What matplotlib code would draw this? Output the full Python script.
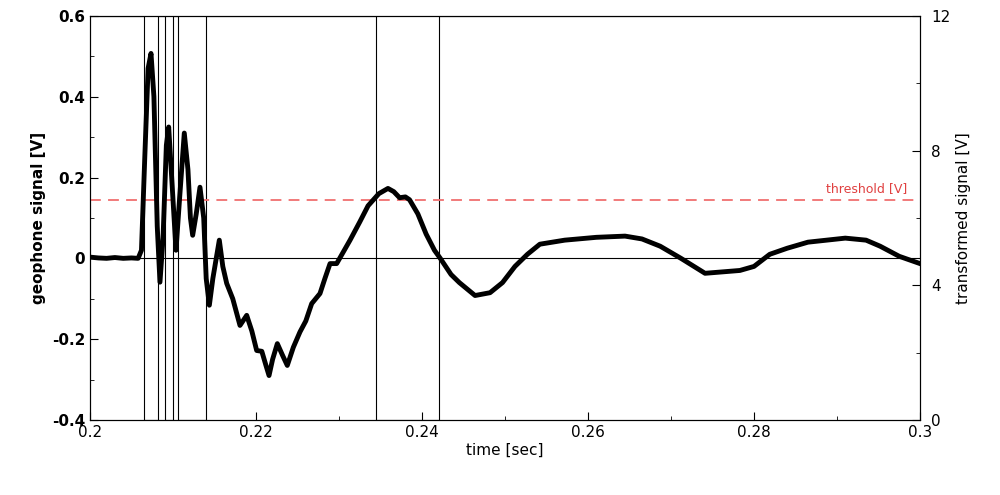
import numpy as np
import matplotlib
matplotlib.use("Agg")
import matplotlib.pyplot as plt
from matplotlib.ticker import MultipleLocator

# geophone signal [V] vs time [sec]
sig_t = [0.200, 0.201, 0.202, 0.203, 0.204, 0.205, 0.2058, 0.2062, 0.2066, 0.2070,
         0.20735, 0.2077, 0.2081, 0.20843, 0.2088, 0.2092, 0.20948, 0.2099, 0.21036,
         0.2108, 0.21136, 0.2118, 0.2121, 0.21237, 0.2128, 0.21325, 0.2137, 0.2140,
         0.21438, 0.2148, 0.21558, 0.2160, 0.21647, 0.2172, 0.21807, 0.21888, 0.2195,
         0.22008, 0.2207, 0.2212, 0.22157, 0.2220, 0.22257, 0.2232, 0.22377, 0.2245,
         0.2253, 0.2260, 0.22671, 0.22771, 0.2283, 0.22892, 0.22972, 0.23133, 0.2325,
         0.2335, 0.2348, 0.2359, 0.2366, 0.2373, 0.2380, 0.2385, 0.2395, 0.2405,
         0.2415, 0.2422, 0.2435, 0.2445, 0.24639, 0.2482, 0.2497, 0.2512, 0.2527,
         0.2542, 0.2572, 0.2610, 0.26446, 0.2665, 0.2687, 0.2712, 0.2741, 0.2783,
         0.2800, 0.2819, 0.2840, 0.2865, 0.291, 0.2935, 0.2952, 0.2975, 0.300]
sig_v = [0.003, 0.001, 0.0, 0.002, 0.0, 0.001, 0.0, 0.02, 0.25, 0.47,
         0.507, 0.40, 0.08, -0.059, 0.05, 0.28, 0.325, 0.18, 0.020,
         0.15, 0.310, 0.22, 0.10, 0.057, 0.11, 0.176, 0.10, -0.05,
         -0.116, -0.05, 0.045, -0.02, -0.062, -0.10, -0.166, -0.141, -0.18,
         -0.228, -0.23, -0.265, -0.29, -0.25, -0.211, -0.24, -0.265, -0.22,
         -0.182, -0.155, -0.112, -0.087, -0.05, -0.013, -0.013, 0.045, 0.09,
         0.13, 0.16, 0.173, 0.165, 0.15, 0.152, 0.145, 0.11, 0.06,
         0.02, 0.0, -0.04, -0.06, -0.092, -0.085, -0.06, -0.02, 0.01,
         0.035, 0.045, 0.052, 0.055, 0.048, 0.03, 0.0, -0.037, -0.03,
         -0.02, 0.01, 0.025, 0.04, 0.05, 0.045, 0.03, 0.005, -0.013]

# transformed signal switching times [sec] and levels [V]
sw_t = [0.200, 0.20654, 0.20819, 0.20904, 0.20996, 0.2106, 0.21398, 0.23446, 0.24205, 0.300]
sw_v = [12, 0, 12, 0, 12, 0, 12, 0, 12, 12]

threshold = 0.144

fig = plt.figure(figsize=(10, 4.95), dpi=100)
ax = fig.add_axes([0.09, 0.1515, 0.83, 0.8165])
ax2 = ax.twinx()

ax2.step(sw_t, sw_v, where="post", color="black", lw=0.8)
ax.plot(sig_t, sig_v, color="black", lw=3.5, zorder=5, solid_joinstyle="round")
ax.axhline(0, color="black", lw=0.8)
ax.axhline(threshold, color="#f07070", lw=1.3, ls=(0, (6, 4)))
ax.text(0.2985, threshold + 0.012, "threshold [V]", color="#e04040", fontsize=9,
        ha="right", va="bottom")

ax.set_zorder(ax2.get_zorder() + 1)
ax.patch.set_visible(False)

ax.set_xlim(0.2, 0.3)
ax.set_ylim(-0.4, 0.6)
ax2.set_ylim(0, 12)
ax.xaxis.set_minor_locator(MultipleLocator(0.01))
ax.yaxis.set_minor_locator(MultipleLocator(0.1))
ax2.yaxis.set_major_locator(MultipleLocator(4))
ax2.yaxis.set_minor_locator(MultipleLocator(2))
ax.set_xticks([0.2, 0.22, 0.24, 0.26, 0.28, 0.3])
ax.set_xticklabels(["0.2", "0.22", "0.24", "0.26", "0.28", "0.3"])
ax.set_yticks([-0.4, -0.2, 0, 0.2, 0.4, 0.6])
ax.set_yticklabels(["-0.4", "-0.2", "0", "0.2", "0.4", "0.6"], fontweight="bold")
for a in (ax, ax2):
    a.tick_params(which="both", direction="in", labelsize=11)
    a.tick_params(which="major", length=6)
    a.tick_params(which="minor", length=3)
ax2.tick_params(axis="y", pad=8)
ax.set_xlabel("time [sec]", fontsize=11, labelpad=2)
ax.set_ylabel("geophone signal [V]", fontsize=11, fontweight="bold")
ax2.set_ylabel("transformed signal [V]", fontsize=11)

fig.savefig("out.png", dpi=100)
